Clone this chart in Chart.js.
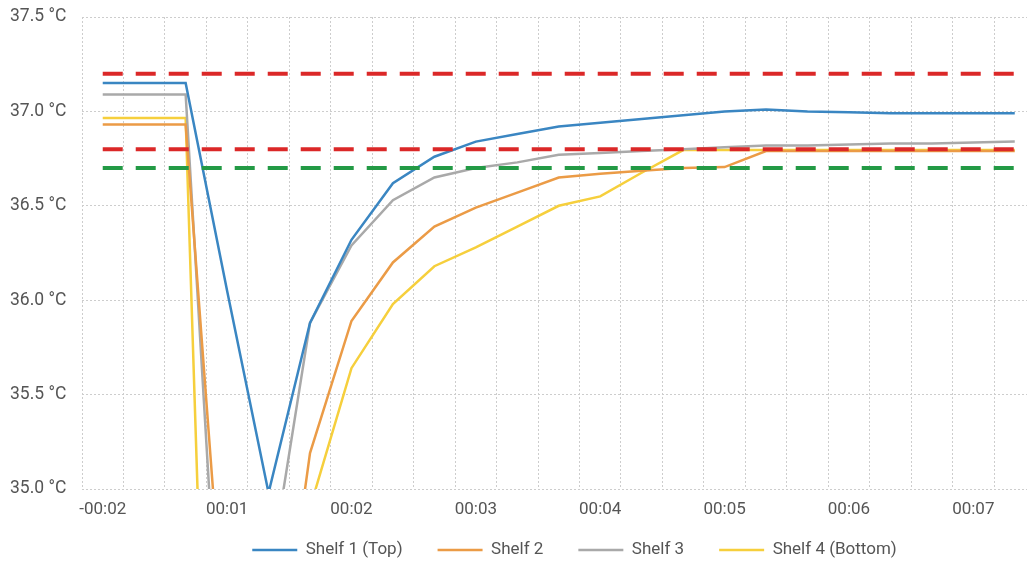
<!DOCTYPE html>
<html lang="en">
<head>
    <meta charset="UTF-8">
    <title>Shelf temperatures</title>
    <script src="https://cdn.jsdelivr.net/npm/chart.js"></script>
    <style>
        html, body { margin: 0; padding: 0; background: #fff; overflow: hidden; }
        /* plot runs past the right edge, as in the cropped original */
        .wrap { width: 1067px; height: 562px; }
    </style>
</head>
<body>
    <div class="wrap">
        <canvas id="shelfChart" width="1067" height="562"></canvas>
    </div>

    <script>
        // sample positions (one per grid cell) and the time labels shown every 3rd sample
        const samples = [0, 1, 2, 3, 4, 5, 6, 7, 8, 9, 10, 11, 12, 13, 14, 15, 16, 17, 18, 19, 20, 21, 22];
        const tickLabels = ['-00:02', '00:01', '00:02', '00:03', '00:04', '00:05', '00:06', '00:07'];

        const shelf1 = [37.15, 37.15, 37.15, 36.05, 34.98, 35.88, 36.32, 36.62, 36.76, 36.84, 36.88, 36.92,
                        36.94, 36.96, 36.98, 37.00, 37.01, 37.00, 36.995, 36.99, 36.99, 36.99, 36.99];
        const shelf2 = [36.93, 36.93, 36.93, 34.0, 33.6, 35.19, 35.89, 36.20, 36.39, 36.49, 36.57, 36.65,
                        36.67, 36.685, 36.70, 36.705, 36.79, 36.79, 36.79, 36.79, 36.79, 36.79, 36.79];
        const shelf3 = [37.09, 37.09, 37.09, 33.4, 34.5, 35.88, 36.29, 36.53, 36.65, 36.70, 36.73, 36.77,
                        36.78, 36.79, 36.80, 36.81, 36.82, 36.82, 36.825, 36.83, 36.83, 36.835, 36.84];
        const shelf4 = [36.965, 36.965, 36.965, 30.1, 32.5, 34.9, 35.64, 35.98, 36.18, 36.28, 36.39, 36.50,
                        36.55, 36.675, 36.795, 36.795, 36.795, 36.795, 36.795, 36.795, 36.795, 36.795, 36.795];

        // limit lines
        const upperLimit = 37.2;
        const lowerLimit = 36.8;
        const targetLine = 36.7;

        const textGrey = '#555555';
        Chart.defaults.font.family = 'Roboto, "Noto Sans", sans-serif';
        Chart.defaults.color = textGrey;

        function shelf(label, data, color) {
            return {
                label: label,
                data: data,
                borderColor: color,
                backgroundColor: color,
                borderWidth: 2.5,
                pointRadius: 0,
                tension: 0,
                order: 1
            };
        }

        function limit(value, color) {
            const first = samples[0], last = samples[samples.length - 1];
            return {
                label: 'limit',
                data: [{ x: first, y: value }, { x: last, y: value }],
                borderColor: color,
                borderWidth: 4,
                borderDash: [20, 13],
                pointRadius: 0,
                order: 0
            };
        }

        // pull the legend a little closer to the time axis
        const legendNudge = {
            id: 'legendNudge',
            afterLayout(chart) {
                chart.legend.top -= 14;
                chart.legend.bottom -= 14;
            }
        };

        const ctx = document.getElementById('shelfChart').getContext('2d');

        const shelfChart = new Chart(ctx, {
            type: 'line',
            data: {
                labels: samples,
                datasets: [
                    shelf('Shelf 1 (Top)', shelf1, '#3a86c2'),
                    shelf('Shelf 2', shelf2, '#eb9b46'),
                    shelf('Shelf 3', shelf3, '#a9a9a9'),
                    shelf('Shelf 4 (Bottom)', shelf4, '#f6cf3c'),
                    limit(upperLimit, '#db2828'),
                    limit(lowerLimit, '#db2828'),
                    limit(targetLine, '#239a45')
                ]
            },
            plugins: [legendNudge],
            options: {
                responsive: false,
                animation: false,
                layout: { padding: { top: 17, left: 10, right: 0, bottom: -20.5 } },
                scales: {
                    x: {
                        type: 'linear',
                        bounds: 'data',
                        min: -0.5,
                        max: 23.26,
                        afterBuildTicks: axis => {
                            axis.ticks = samples.map(v => ({ value: v }));
                        },
                        afterFit: axis => { axis.height = 31.5; },
                        grid: { color: '#cdcdcd', offset: true, drawTicks: false },
                        border: { display: false, dash: [2, 2] },
                        ticks: {
                            autoSkip: false,
                            maxRotation: 0,
                            padding: 10.3,
                            font: { size: 17 },
                            callback: (value, index) => index % 3 === 0 ? tickLabels[index / 3] : ''
                        }
                    },
                    y: {
                        min: 35,
                        max: 37.5,
                        afterFit: axis => { axis.width = 72; },
                        grid: { color: '#cdcdcd', drawTicks: false },
                        border: { display: false, dash: [2, 2] },
                        ticks: {
                            stepSize: 0.5,
                            crossAlign: 'far',
                            font: { size: 17.5 },
                            callback: v => v.toFixed(1) + ' °C'
                        }
                    }
                },
                plugins: {
                    tooltip: { enabled: false },
                    legend: {
                        position: 'bottom',
                        fullSize: false,
                        labels: {
                            boxWidth: 45,
                            boxHeight: 0,
                            padding: 35,
                            color: textGrey,
                            font: { size: 17 },
                            filter: item => item.text !== 'limit'
                        }
                    }
                }
            }
        });
    </script>
</body>
</html>
